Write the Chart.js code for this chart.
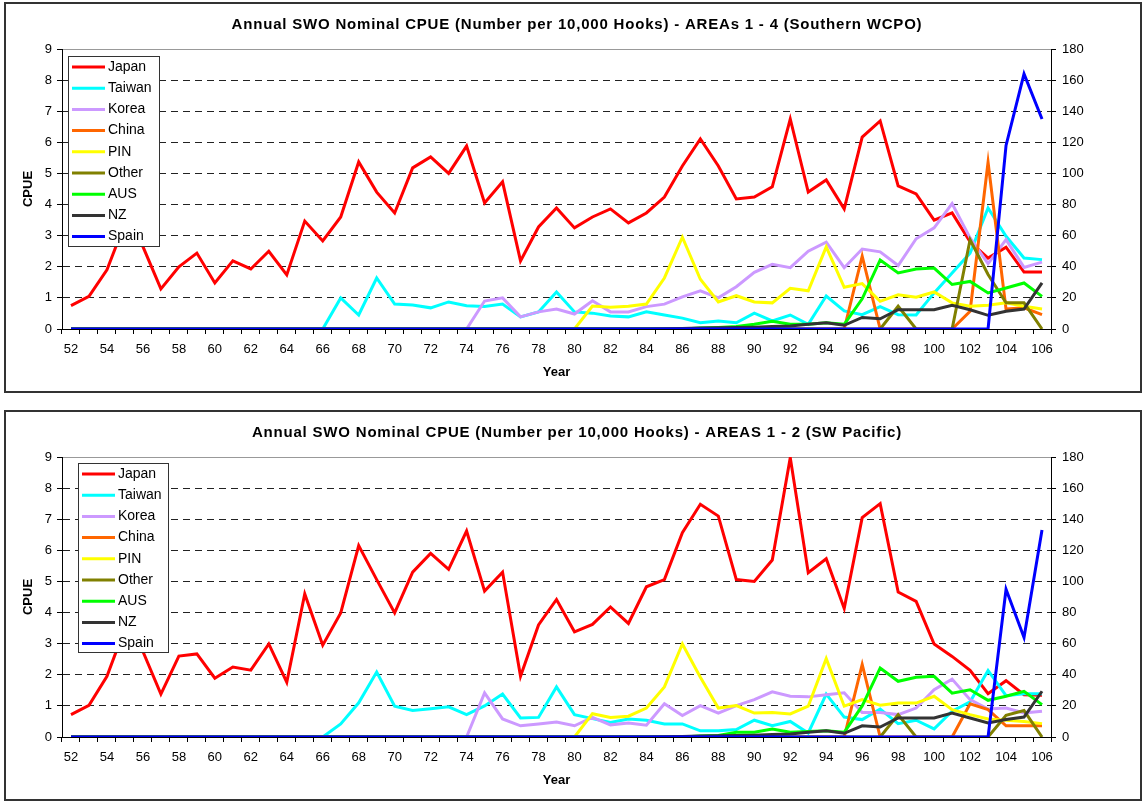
<!DOCTYPE html>
<html>
<head>
<meta charset="utf-8">
<title>Annual SWO Nominal CPUE</title>
<script src="https://cdn.jsdelivr.net/npm/chart.js"></script>
<style>
  body { margin: 0; background: #fff; }
  .panel { position: absolute; left: 4px; width: 1138px; height: 391px; border: 2px solid #333; box-sizing: border-box; }
  canvas { position: absolute; left: 0; }
</style>
</head>
<body>
<div class="panel" style="top:2px"></div>
<div class="panel" style="top:410px"></div>
<canvas id="chartTop" width="1145" height="400" style="top:0"></canvas>
<canvas id="chartBottom" width="1145" height="401" style="top:400px"></canvas>
<script>
// years 52 .. 106
var years = ['52','53','54','55','56','57','58','59','60','61','62','63','64','65','66','67','68','69','70','71',
  '72','73','74','75','76','77','78','79','80','81','82','83','84','85','86','87','88','89','90','91',
  '92','93','94','95','96','97','98','99','100','101','102','103','104','105','106'];

var fleets = ['Japan', 'Taiwan', 'Korea', 'China', 'PIN', 'Other', 'AUS', 'NZ', 'Spain'];
var colors = ['#ff0000', '#00ffff', '#cc99ff', '#ff6600', '#ffff00', '#808000', '#00ff00', '#333333', '#0000ff'];

var leftTicks = [0, 1, 2, 3, 4, 5, 6, 7, 8, 9];
var rightTicks = [0, 20, 40, 60, 80, 100, 120, 140, 160, 180];

// ---- AREAs 1 - 4 (Southern WCPO) ----
var jpn1 = [0.75,1.05,1.9,3.4,2.65,1.29,2.0,2.44,1.48,2.19,
  1.93,2.5,1.74,3.47,2.83,3.6,5.37,4.4,3.73,5.18,
  5.53,5.0,5.88,4.05,4.73,2.19,3.28,3.89,3.25,3.6,
  3.86,3.41,3.73,4.24,5.24,6.11,5.24,4.18,4.24,4.57,
  6.75,4.4,4.79,3.86,6.17,6.69,4.6,4.34,3.5,3.73,
  2.8,2.28,2.63,1.83,1.83];
var twn1 = [0,0,0,0,0,0,0,0,0,0,
  0,0,0,0,0,1.0,0.45,1.64,0.8,0.77,
  0.68,0.87,0.75,0.72,0.8,0.39,0.55,1.19,0.55,0.51,
  0.42,0.39,0.55,0.45,0.35,0.2,0.26,0.2,0.51,0.26,
  0.45,0.15,1.06,0.58,0.46,0.72,0.46,0.45,1.16,1.8,
  2.44,3.89,2.98,2.28,2.23];
var kor1 = [0,0,0,0,0,0,0,0,0,0,
  0,0,0,0,0,0,0,0,0,0,
  0,0,0,0.9,1.0,0.39,0.55,0.64,0.48,0.91,
  0.55,0.55,0.72,0.8,1.03,1.23,1.0,1.36,1.82,2.08,
  1.97,2.5,2.79,1.97,2.57,2.48,2.04,2.9,3.25,4.03,
  2.93,2.1,2.87,1.98,2.15];
var chn1 = [0,0,0,0,0,0,0,0,0,0,
  0,0,0,0,0,0,0,0,0,0,
  0,0,0,0,0,0,0,0,0,0,
  0,0,0,0,0,0,0,0,0,0,
  0,0,0,0,2.34,0,0,0,0,0,
  0.57,5.36,0.64,0.68,0.46];
var pin1 = [0,0,0,0,0,0,0,0,0,0,
  0,0,0,0,0,0,0,0,0,0,
  0,0,0,0,0,0,0,0,0,0.74,
  0.7,0.73,0.8,1.64,2.95,1.6,0.87,1.07,0.87,0.84,
  1.31,1.23,2.64,1.34,1.46,0.89,1.1,1.02,1.19,0.84,
  0.73,0.76,0.84,0.73,0.64];
var oth1 = [0,0,0,0,0,0,0,0,0,0,
  0,0,0,0,0,0,0,0,0,0,
  0,0,0,0,0,0,0,0,0,0,
  0,0,0,0,0,0,0,0,0,0,
  0,0,0,0,0,0,0.73,0,0,0,
  2.87,1.75,0.84,0.84,0];
var aus1 = [0,0,0,0,0,0,0,0,0,0,
  0,0,0,0,0,0,0,0,0,0,
  0,0,0,0,0,0,0,0,0,0,
  0,0,0,0,0,0.03,0.05,0.08,0.15,0.25,
  0.15,0.15,0.2,0.15,0.97,2.22,1.8,1.93,1.96,1.43,
  1.53,1.16,1.32,1.48,1.05];
var nz1 = [0,0,0,0,0,0,0,0,0,0,
  0,0,0,0,0,0,0,0,0,0,
  0,0,0,0,0,0,0,0,0,0,
  0,0,0,0.01,0.02,0.03,0.04,0.05,0.06,0.08,
  0.1,0.15,0.2,0.12,0.37,0.33,0.62,0.62,0.62,0.76,
  0.62,0.44,0.57,0.64,1.48];
var spa1 = [0,0,0,0,0,0,0,0,0,0,
  0,0,0,0,0,0,0,0,0,0,
  0,0,0,0,0,0,0,0,0,0,
  0,0,0,0,0,0,0,0,0,0,
  0,0,0,0,0,0,0,0,0,0,
  0,0,118,164,135];

// ---- AREAS 1 - 2 (SW Pacific) ----
var jpn2 = [0.72,1.02,1.95,3.5,2.75,1.38,2.6,2.67,1.89,2.25,
  2.15,2.99,1.76,4.6,2.95,3.99,6.15,5.06,3.99,5.3,
  5.9,5.39,6.62,4.69,5.3,1.95,3.6,4.42,3.38,3.62,
  4.18,3.65,4.83,5.06,6.57,7.48,7.1,5.06,5.0,5.69,
  8.98,5.28,5.73,4.13,7.05,7.5,4.66,4.36,2.99,2.59,
  2.14,1.39,1.81,1.36,1.34];
var twn2 = [0,0,0,0,0,0,0,0,0,0,
  0,0,0,0,0,0.42,1.1,2.09,0.99,0.85,
  0.91,0.97,0.72,1.0,1.38,0.61,0.63,1.61,0.72,0.59,
  0.47,0.58,0.54,0.42,0.42,0.2,0.2,0.24,0.54,0.36,
  0.5,0.13,1.38,0.64,0.56,0.9,0.43,0.54,0.26,0.83,
  1.13,2.14,1.33,1.39,1.39];
var kor2 = [0,0,0,0,0,0,0,0,0,0,
  0,0,0,0,0,0,0,0,0,0,
  0,0,0,1.42,0.58,0.36,0.42,0.48,0.36,0.63,
  0.39,0.45,0.38,1.07,0.69,1.01,0.77,1.01,1.2,1.45,
  1.31,1.29,1.36,1.42,0.79,0.79,0.72,0.93,1.52,1.86,
  1.2,0.9,0.93,0.77,0.83];
var chn2 = [0,0,0,0,0,0,0,0,0,0,
  0,0,0,0,0,0,0,0,0,0,
  0,0,0,0,0,0,0,0,0,0,
  0,0,0,0,0,0,0,0,0,0,
  0,0,0,0,2.33,0,0,0,0,0,
  1.07,0.88,0.36,0.36,0.36];
var pin2 = [0,0,0,0,0,0,0,0,0,0,
  0,0,0,0,0,0,0,0,0,0,
  0,0,0,0,0,0,0,0,0,0.75,
  0.63,0.67,0.93,1.61,2.99,1.92,0.93,1.01,0.77,0.79,
  0.74,0.99,2.52,0.99,1.2,1.02,1.09,1.09,1.31,0.88,
  0.72,0.58,0.54,0.5,0.43];
var oth2 = [0,0,0,0,0,0,0,0,0,0,
  0,0,0,0,0,0,0,0,0,0,
  0,0,0,0,0,0,0,0,0,0,
  0,0,0,0,0,0,0,0,0,0,
  0,0,0,0,0,0,0.72,0,0,0,
  0,0,0.7,0.85,0];
var aus2 = [0,0,0,0,0,0,0,0,0,0,
  0,0,0,0,0,0,0,0,0,0,
  0,0,0,0,0,0,0,0,0,0,
  0,0,0,0,0,0.03,0.05,0.15,0.15,0.26,
  0.15,0.18,0.2,0.15,1.0,2.22,1.79,1.92,1.95,1.41,
  1.52,1.18,1.31,1.47,1.04];
var nz2 = [0,0,0,0,0,0,0,0,0,0,
  0,0,0,0,0,0,0,0,0,0,
  0,0,0,0,0,0,0,0,0,0,
  0,0,0,0.01,0.02,0.03,0.04,0.05,0.06,0.08,
  0.1,0.15,0.2,0.12,0.36,0.32,0.61,0.61,0.61,0.77,
  0.61,0.45,0.56,0.64,1.47];
var spa2 = [0,0,0,0,0,0,0,0,0,0,
  0,0,0,0,0,0,0,0,0,0,
  0,0,0,0,0,0,0,0,0,0,
  0,0,0,0,0,0,0,0,0,0,
  0,0,0,0,0,0,0,0,0,0,
  0,0,95,64,133];

Chart.defaults.font.family = '"Liberation Sans", Arial, sans-serif';
Chart.defaults.color = '#000';

// title (a bit spaced out like the excel one) + legend in a white box inside the plot
var decor = {
    id: 'decor',
    afterDraw: function (chart, args, opts) {
        var ctx = chart.ctx;
        ctx.save();
        ctx.fillStyle = '#000';
        ctx.font = 'bold 15px "Liberation Sans", Arial, sans-serif';
        ctx.letterSpacing = '0.8px';
        ctx.textAlign = 'center';
        ctx.textBaseline = 'middle';
        ctx.fillText(opts.title, opts.titleX, opts.titleY);
        ctx.letterSpacing = '0px';
        ctx.textAlign = 'left';

        var L = opts.legend;
        ctx.fillStyle = '#fff';
        ctx.fillRect(L.x, L.y, L.w, L.h);
        ctx.strokeStyle = '#333';
        ctx.lineWidth = 1;
        ctx.strokeRect(L.x + 0.5, L.y + 0.5, L.w, L.h);
        ctx.font = '14px "Liberation Sans", Arial, sans-serif';
        chart.data.datasets.forEach(function (ds, i) {
            var yy = L.row0 + i * L.rowH;
            ctx.strokeStyle = ds.borderColor;
            ctx.lineWidth = 3;
            ctx.beginPath();
            ctx.moveTo(L.x + 4, yy);
            ctx.lineTo(L.x + 37, yy);
            ctx.stroke();
            ctx.fillStyle = '#000';
            ctx.fillText(ds.label, L.x + 40, yy);
        });
        ctx.restore();
    }
};

function makeChart(id, title, series, g) {
    var datasets = [];
    for (var i = 0; i < fleets.length; i++) {
        datasets.push({
            label: fleets[i],
            data: series[i],
            borderColor: colors[i],
            backgroundColor: colors[i],
            borderWidth: 3,
            pointRadius: 0,
            fill: false,
            tension: 0,
            order: fleets.length - i,
            yAxisID: fleets[i] === 'Spain' ? 'y2' : 'y'
        });
    }
    return new Chart(document.getElementById(id), {
        type: 'line',
        data: {labels: years, datasets: datasets},
        plugins: [decor],
        options: {
            responsive: false,
            animation: false,
            layout: {padding: {top: g.plotTop, left: 0, right: 0, bottom: 0}},
            plugins: {
                legend: {display: false},
                tooltip: {enabled: false},
                title: {display: false},
                decor: {title: title, titleX: 577, titleY: g.titleY, legend: g.legend}
            },
            scales: {
                x: {
                    type: 'category',
                    offset: true,
                    grid: {drawOnChartArea: false, offset: true, tickLength: 5, color: '#000'},
                    border: {color: '#000', width: 1},
                    ticks: {
                        autoSkip: false,
                        maxRotation: 0,
                        padding: 8,
                        font: {size: 13},
                        callback: function (val, i) {
                            return i % 2 === 0 ? years[i] : '';
                        }
                    },
                    title: {display: true, text: 'Year', font: {size: 13, weight: 'bold'}, padding: {top: 0, bottom: g.yearPad}},
                    afterFit: function (s) { s.height = g.xH; }
                },
                y: {
                    position: 'left',
                    min: 0,
                    max: 9,
                    afterBuildTicks: function (s) { s.ticks = leftTicks.map(function (v) { return {value: v}; }); },
                    ticks: {padding: 5, font: {size: 13}},
                    grid: {
                        tickLength: 5,
                        tickColor: '#000',
                        color: function (c) { return c.tick && c.tick.value === 9 ? '#999' : '#222'; }
                    },
                    border: {
                        color: '#000',
                        dash: function (c) { return c.tick && c.tick.value === 9 ? [] : [7, 5]; }
                    },
                    title: {display: true, text: 'CPUE', font: {size: 13, weight: 'bold'}, padding: {top: 21, bottom: 0}},
                    afterFit: function (s) { s.width = 62; }
                },
                y2: {
                    position: 'right',
                    min: 0,
                    max: 180,
                    afterBuildTicks: function (s) { s.ticks = rightTicks.map(function (v) { return {value: v}; }); },
                    ticks: {padding: 6, font: {size: 13}},
                    grid: {drawOnChartArea: false, tickLength: 5, color: '#000'},
                    border: {color: '#000'},
                    afterFit: function (s) { s.width = 94; }
                }
            }
        }
    });
}

makeChart('chartTop',
    'Annual SWO Nominal CPUE (Number per 10,000 Hooks) - AREAs 1 - 4 (Southern WCPO)',
    [jpn1, twn1, kor1, chn1, pin1, oth1, aus1, nz1, spa1],
    {plotTop: 49, titleY: 25, xH: 71, yearPad: 20,
     legend: {x: 68, y: 56, w: 91, h: 190, row0: 67, rowH: 21.2}});

makeChart('chartBottom',
    'Annual SWO Nominal CPUE (Number per 10,000 Hooks) - AREAS 1 - 2 (SW Pacific)',
    [jpn2, twn2, kor2, chn2, pin2, oth2, aus2, nz2, spa2],
    {plotTop: 57, titleY: 33, xH: 64, yearPad: 13,
     legend: {x: 78, y: 63, w: 90, h: 189, row0: 74, rowH: 21.2}});
</script>
</body>
</html>
